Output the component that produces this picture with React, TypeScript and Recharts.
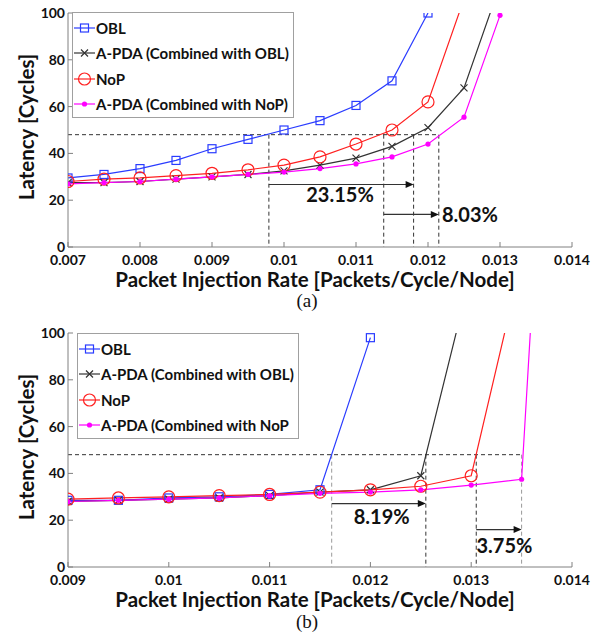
import React from "react";
import {
  LineChart,
  Line,
  XAxis,
  YAxis,
  Legend,
  ReferenceLine,
  ReferenceDot,
  Label,
} from "recharts";

// ---- data: panel (a) ----
const ratesA = [0.007, 0.0075, 0.008, 0.0085, 0.009, 0.0095, 0.01, 0.0105, 0.011, 0.0115, 0.012, 0.0125, 0.013];
const oblA = [29.5, 31, 33.5, 37, 42, 46, 50, 54, 60.5, 71, 100];
const apdaOblA = [27.5, 27.5, 28, 29, 30, 31, 32.5, 35, 38, 43, 51, 68, 112];
const nopA = [28, 29, 29.5, 30.5, 31.5, 33, 35, 38.5, 44, 50, 62, 106];
const apdaNopA = [27, 27.5, 28, 29, 30, 31, 32, 33.5, 35.5, 38.5, 44, 55.5, 99];
const xTicksA = [0.007, 0.008, 0.009, 0.01, 0.011, 0.012, 0.013, 0.014];
const crossA = [0.00979, 0.011385, 0.0118, 0.01215];

// ---- data: panel (b) ----
const ratesB = [0.009, 0.0095, 0.01, 0.0105, 0.011, 0.0115, 0.012, 0.0125, 0.013, 0.0135, 0.014];
const oblB = [28.5, 28.5, 29.5, 30, 31, 33, 98];
const apdaOblB = [28, 28.5, 29, 29.5, 30.5, 32, 33, 39, 126];
const nopB = [29, 29.5, 30, 30.5, 31, 32, 33, 34.5, 39, 131];
const apdaNopB = [28, 28.5, 29, 29.5, 30.5, 31.5, 32, 33, 35, 37.5, 400];
const xTicksB = [0.009, 0.01, 0.011, 0.012, 0.013, 0.014];
const crossB = [0.011616, 0.01255, 0.01305, 0.0135];

const yTicks = [0, 20, 40, 60, 80, 100];
const latencyLevel = 48;

const FONT = "Lato, 'Open Sans', sans-serif";

const toPoints = (rates: number[], vals: number[]) =>
  vals.map((y, i) => ({ x: rates[i], y }));

type Shape = "square" | "cross" | "circle" | "dot";

const Marker = ({ shape, color, cx, cy }: { shape: Shape; color: string; cx?: number; cy?: number }) => {
  if (cx == null || cy == null) return null;
  if (shape === "square")
    return <rect x={cx - 4} y={cy - 4} width={8} height={8} fill="none" stroke={color} strokeWidth={1.2} />;
  if (shape === "circle")
    return <circle cx={cx} cy={cy} r={6} fill="none" stroke={color} strokeWidth={1.2} />;
  if (shape === "cross")
    return (
      <path
        d={`M${cx - 3.5},${cy - 3.5}L${cx + 3.5},${cy + 3.5}M${cx - 3.5},${cy + 3.5}L${cx + 3.5},${cy - 3.5}`}
        stroke={color}
        strokeWidth={1.2}
      />
    );
  return <circle cx={cx} cy={cy} r={2.6} fill={color} stroke="none" />;
};

const Arrow = (p: any) => {
  const { x1, y1, x2, y2 } = p;
  return (
    <g>
      <line x1={x1} y1={y1} x2={x2 - 6} y2={y2} stroke="#333" strokeWidth={1.2} />
      <path d={`M${x2},${y2}L${x2 - 8},${y2 - 3.5}L${x2 - 8},${y2 + 3.5}Z`} fill="#111" />
    </g>
  );
};

const LegendBox = ({ series }: { series: any[] }) => (
  <div
    style={{
      background: "#fff",
      border: "1px solid #a0a0a0",
      padding: "2px 4px 0px 1px",
      fontFamily: FONT,
      fontWeight: 700,
      fontSize: 15,
      color: "#111",
    }}
  >
    {series.map((s) => (
      <div key={s.name} style={{ display: "flex", alignItems: "center", height: 25.5 }}>
        <svg width={21} height={14}>
          <line x1={0} y1={7} x2={21} y2={7} stroke={s.color} strokeWidth={1.2} />
          <Marker shape={s.shape} color={s.color} cx={10.5} cy={7} />
        </svg>
        <span style={{ marginLeft: 1, whiteSpace: "nowrap" }}>{s.name}</span>
      </div>
    ))}
  </div>
);

const YTitle = (props: any) => {
  const vb = props.viewBox || { x: 0, y: 13, width: 68, height: 233 };
  const cx = vb.x + 26;
  const cy = vb.y + vb.height / 2 - 3;
  return (
    <text
      x={cx}
      y={cy}
      transform={`rotate(-90 ${cx} ${cy})`}
      textAnchor="middle"
      dominantBaseline="central"
      style={{ fontSize: 20.5, fontWeight: 700, fontFamily: FONT, fill: "#111" }}
    >
      Latency [Cycles]
    </text>
  );
};

const fmt = (v: number) => parseFloat(v.toFixed(4)).toString();

const tickStyle = { fill: "#111", fontSize: 14, fontWeight: 700, fontFamily: FONT };
const pctStyle = { fontSize: 20, fontWeight: 700, fontFamily: FONT, fill: "#111" };

type PanelProps = {
  series: { name: string; color: string; shape: Shape; data: { x: number; y: number }[] }[];
  domain: [number, number];
  ticks: number[];
  cross: number[];
  crossColors: string[];
  arrows: { from: number; to: number; y: number }[];
  notes: { x: number; y: number; text: string }[];
  legendLeft: number;
  legendTop: number;
};

const Panel = ({ series, domain, ticks, cross, crossColors, arrows, notes, legendLeft, legendTop }: PanelProps) => (
  <LineChart width={597} height={300} margin={{ top: 13, right: 25, left: 0, bottom: 8 }}>
    <XAxis
      type="number"
      dataKey="x"
      domain={domain}
      ticks={ticks}
      interval={0}
      allowDataOverflow
      tickFormatter={fmt}
      stroke="#808080"
      tickSize={-5}
      tickMargin={13}
      height={45}
      tick={tickStyle}
    >
      <Label
        value="Packet Injection Rate [Packets/Cycle/Node]"
        position="insideBottom"
        offset={5}
        dx={-5}
        style={{ fontSize: 20.5, fontWeight: 700, fontFamily: FONT, fill: "#111" }}
      />
    </XAxis>
    <YAxis
      type="number"
      dataKey="y"
      domain={[0, 100]}
      ticks={yTicks}
      interval={0}
      allowDataOverflow
      stroke="#808080"
      tickSize={-5}
      tickMargin={8}
      width={68}
      tick={tickStyle}
    >
      <Label content={<YTitle />} />
    </YAxis>
    <Legend
      layout="vertical"
      align="center"
      verticalAlign="middle"
      wrapperStyle={{ left: legendLeft, top: legendTop, width: "auto" }}
      content={() => <LegendBox series={series} />}
    />
    <ReferenceLine
      segment={[{ x: domain[0], y: latencyLevel }, { x: cross[3], y: latencyLevel }]}
      stroke="#333"
      strokeDasharray="4 3"
    />
    {cross.map((c, i) => (
      <ReferenceLine
        key={"v" + i}
        segment={[{ x: c, y: latencyLevel }, { x: c, y: 0 }]}
        stroke={crossColors[i]}
        strokeDasharray="4 3"
      />
    ))}
    {arrows.map((a, i) => (
      <ReferenceLine
        key={"a" + i}
        segment={[{ x: a.from, y: a.y }, { x: a.to, y: a.y }]}
        shape={Arrow}
      />
    ))}
    {notes.map((n, i) => (
      <ReferenceDot
        key={"n" + i}
        x={n.x}
        y={n.y}
        r={0}
        fill="none"
        stroke="none"
        label={{ value: n.text, position: "center", style: pctStyle }}
      />
    ))}
    {series.map((s) => (
      <Line
        key={s.name}
        data={s.data}
        dataKey="y"
        name={s.name}
        type="linear"
        stroke={s.color}
        strokeWidth={1.2}
        isAnimationActive={false}
        dot={(p: any) => <Marker key={p.index} shape={s.shape} color={s.color} cx={p.cx} cy={p.cy} />}
        activeDot={false}
      />
    ))}
  </LineChart>
);

const BLUE = "#2a3cff";
const BLACK = "#333333";
const RED = "#ff2020";
const MAGENTA = "#ff00ff";

const seriesA = [
  { name: "OBL", color: BLUE, shape: "square" as Shape, data: toPoints(ratesA, oblA) },
  { name: "A-PDA (Combined with OBL)", color: BLACK, shape: "cross" as Shape, data: toPoints(ratesA, apdaOblA) },
  { name: "NoP", color: RED, shape: "circle" as Shape, data: toPoints(ratesA, nopA) },
  { name: "A-PDA (Combined with NoP)", color: MAGENTA, shape: "dot" as Shape, data: toPoints(ratesA, apdaNopA) },
];

const seriesB = [
  { name: "OBL", color: BLUE, shape: "square" as Shape, data: toPoints(ratesB, oblB) },
  { name: "A-PDA (Combined with OBL)", color: BLACK, shape: "cross" as Shape, data: toPoints(ratesB, apdaOblB) },
  { name: "NoP", color: RED, shape: "circle" as Shape, data: toPoints(ratesB, nopB) },
  { name: "A-PDA (Combined with NoP", color: MAGENTA, shape: "dot" as Shape, data: toPoints(ratesB, apdaNopB) },
];

const captionStyle: React.CSSProperties = {
  position: "absolute",
  fontFamily: "'Liberation Serif', 'DejaVu Serif', serif",
  fontSize: 19,
  lineHeight: "22px",
  color: "#111",
  width: 40,
  textAlign: "center",
};

export default function App() {
  return (
    <div style={{ position: "absolute", left: 0, top: 0, width: 597, height: 636, background: "#fff" }}>
      <div style={{ position: "absolute", left: 0, top: 0 }}>
        <Panel
          series={seriesA}
          domain={[0.007, 0.014]}
          ticks={xTicksA}
          cross={crossA}
          crossColors={["#333", "#333", "#333", "#333"]}
          arrows={[
            { from: crossA[0], to: crossA[2], y: 26.7 },
            { from: crossA[1], to: crossA[3], y: 13.9 },
          ]}
          notes={[
            { x: 0.010778, y: 22.1, text: "23.15%" },
            { x: 0.012583, y: 13.9, text: "8.03%" },
          ]}
          legendLeft={72}
          legendTop={12}
        />
      </div>
      <div style={{ ...captionStyle, left: 287, top: 290 }}>(a)</div>
      <div style={{ position: "absolute", left: 0, top: 320 }}>
        <Panel
          series={seriesB}
          domain={[0.009, 0.014]}
          ticks={xTicksB}
          cross={crossB}
          crossColors={["#999", "#333", "#333", "#999"]}
          arrows={[
            { from: crossB[0], to: crossB[1], y: 27.1 },
            { from: crossB[2], to: crossB[3], y: 16 },
          ]}
          notes={[
            { x: 0.012112, y: 21.4, text: "8.19%" },
            { x: 0.01333, y: 8.9, text: "3.75%" },
          ]}
          legendLeft={77}
          legendTop={13}
        />
      </div>
      <div style={{ ...captionStyle, left: 287, top: 611 }}>(b)</div>
    </div>
  );
}
